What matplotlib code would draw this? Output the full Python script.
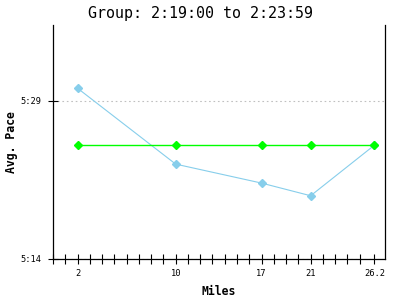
import matplotlib.pyplot as plt
from matplotlib.ticker import FuncFormatter, FixedLocator

# pace in seconds per mile at each split
miles = [2, 10, 17, 21, 26.2]
pace = [330.2, 323.0, 321.2, 320.0, 324.8]
target = [324.8, 324.8, 324.8, 324.8, 324.8]
pace_ticks = [314, 329]
mile_marks = list(range(0, 26))
title = 'Group: 2:19:00 to 2:23:59'


def mmss(v, pos=None):
    v = int(round(v))
    return f'{v // 60}:{v % 60:02d}'


plt.rcParams['font.family'] = 'DejaVu Sans Mono'

fig = plt.figure(figsize=(4, 3), dpi=100)
ax = fig.add_axes([0.1325, 0.1367, 0.83, 0.78])

ax.plot(miles, pace, color='#87ceeb', lw=0.8, marker='D', ms=4, mec='#87ceeb', zorder=3)
ax.plot(miles, target, color='#00ff00', lw=1.0, marker='D', ms=4, mec='#00ff00', zorder=4)

ax.set_xlim(0, 27.06)
ax.set_ylim(314, 336.2)
ax.set_xticks(miles)
ax.set_xticklabels(['2', '10', '17', '21', '26.2'])
ax.xaxis.set_minor_locator(FixedLocator([m for m in mile_marks if m not in miles]))
ax.set_yticks(pace_ticks)
ax.yaxis.set_major_formatter(FuncFormatter(mmss))

ax.tick_params(axis='x', which='both', direction='inout', length=7, width=0.8, pad=4, labelsize=6.3)
ax.tick_params(axis='y', direction='inout', length=7, width=0.8, pad=4.5, labelsize=6.3)
ax.grid(axis='y', color='#c0c0c0', lw=0.8, linestyle=(0, (1.5, 2.5)))

ax.spines['top'].set_visible(False)
for s in ['left', 'right', 'bottom']:
    ax.spines[s].set_linewidth(0.9)

ax.set_xlabel('Miles', fontsize=8.3, fontweight='bold', labelpad=5)
ax.set_ylabel('Avg. Pace', fontsize=8.3, fontweight='bold', labelpad=2)
fig.text(0.5, 0.955, title, fontsize=10.8, ha='center', va='center')

fig.savefig('out.png', dpi=100)
